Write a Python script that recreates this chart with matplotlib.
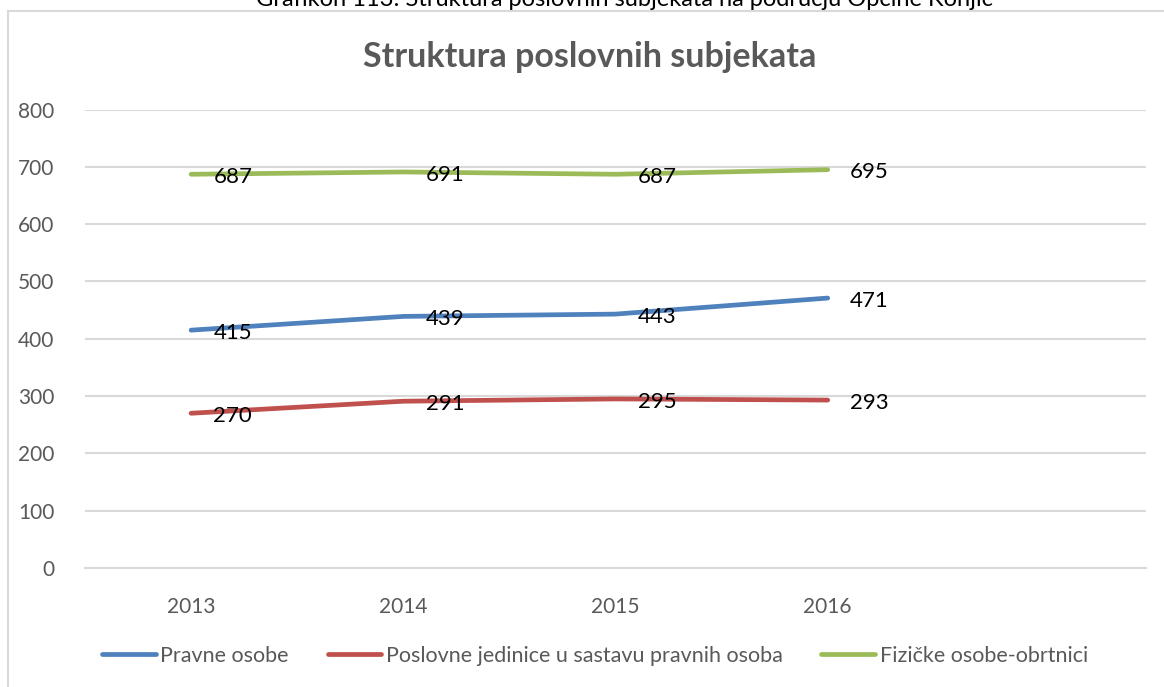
import matplotlib.pyplot as plt
from matplotlib.patches import Rectangle

plt.rcParams['font.family'] = ['Lato', 'DejaVu Sans']

# Data
years = ['2013', '2014', '2015', '2016']
pravne = [415, 439, 443, 471]
poslovne = [270, 291, 295, 293]
fizicke = [687, 691, 687, 695]

series = [
	('Pravne osobe', pravne, '#4F81BD'),
	('Poslovne jedinice u sastavu pravnih osoba', poslovne, '#C0504D'),
	('Fizičke osobe-obrtnici', fizicke, '#9BBB59'),
]

fig = plt.figure(figsize=(11.64, 6.87), dpi=100)
ax = fig.add_axes([85 / 1164, 1 - 568 / 687, (1146 - 85) / 1164, (568 - 109.5) / 687])

# Chart frame like the Excel chart area
fig.patches.append(Rectangle((8 / 1164, -0.05), 1.1, 1 - 11 / 687 + 0.05, transform=fig.transFigure,
	fill=False, edgecolor='#D9D9D9', linewidth=1.5, zorder=0))

x = list(range(len(years)))
for name, values, color in series:
	ax.plot(x, values, color=color, linewidth=3.4, solid_capstyle='round', label=name, zorder=3)
	for xi, v in zip(x, values):
		ax.annotate(str(v), (xi, v), xytext=(16, -2), textcoords='offset points',
			ha='left', va='center', fontsize=16, color='black', zorder=4)

# Axes styling: 5 category slots, the last one left empty
ax.set_xlim(-0.5, 4.5)
ax.set_ylim(0, 800)
ax.set_yticks(range(0, 801, 100))
ax.set_xticks(x)
ax.set_xticklabels(years)
ax.grid(axis='y', color='#D9D9D9', linewidth=1.5)
ax.set_axisbelow(True)
for s in ['top', 'right', 'left']:
	ax.spines[s].set_visible(False)
ax.spines['bottom'].set_color('#D9D9D9')
ax.spines['bottom'].set_linewidth(1.5)
ax.tick_params(axis='both', length=0, labelsize=15, labelcolor='#595959')
ax.tick_params(axis='x', pad=21)
ax.tick_params(axis='y', pad=22)

fig.text(590 / 1164, 1 - 57 / 687, 'Struktura poslovnih subjekata', ha='center', va='center',
	fontsize=24.5, fontweight='bold', color='#595959')
fig.text(624 / 1164, 1 - 6 / 687, 'Grafikon 113: Struktura poslovnih subjekata na području Općine Konjic',
	ha='center', va='baseline', fontsize=17, color='black')

fig.legend(loc='center', bbox_to_anchor=(595 / 1164, 1 - 656 / 687), ncol=3, frameon=False,
	fontsize=15.5, labelcolor='#595959', handlelength=2.5, handletextpad=0.2, columnspacing=1.8)

fig.savefig('out.png', dpi=100)
